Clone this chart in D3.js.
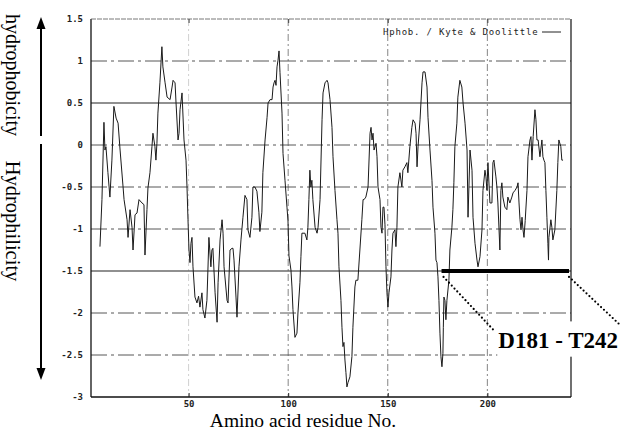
<!DOCTYPE html>
<html><head><meta charset="utf-8">
<script src="https://cdn.jsdelivr.net/npm/d3@7/dist/d3.min.js"></script>
<style>body{margin:0;background:#fff;} svg{display:block;}</style>
</head><body>
<svg id="c" width="623" height="432"></svg>
<script>
// ---- data ----
const xTicks = [50, 100, 150, 200];
const yTicks = [1.5, 1, 0.5, 0, -0.5, -1, -1.5, -2, -2.5, -3];
const solidGrid = [0.5, -1.5];
const xDomain = [1, 242];
const yDomain = [-3, 1.5];
const xTitle = "Amino acid residue No.";
const upLabel = "hydrophobicity";
const downLabel = "Hydrophilicity";
const legendLabel = "Hphob. / Kyte & Doolittle";
const regionLabel = "D181 - T242";
const regionSpan = [177, 241];
const regionLevel = -1.5;

// [residue, Kyte-Doolittle score]
const profile = [
[5.5,-1.21],[6.5,-0.65],[7.5,0.27],[8,-0.06],[8.5,-0.02],[9.5,-0.33],[10.5,-0.62],[11.5,-0.18],[12.5,0.46],[13.6,0.32],[14.6,0.26],[15.6,-0.06],[17.1,-0.5],[17.6,-0.65],[19.1,-0.89],[19.6,-1.1],[20.6,-0.77],[21.6,-0.98],[22.1,-1.25],[23.1,-0.83],[24.1,-0.81],[25.1,-0.65],[26.6,-0.69],[27.6,-0.71],[28.1,-1.31],[29.1,-0.77],[29.6,-0.51],[30.6,-0.33],[31.6,-0.02],[32.1,0.14],[33.1,-0.02],[33.6,-0.18],[34.1,0.02],[34.6,0.38],[35.6,0.74],[36.6,1.17],[37.1,0.93],[38.2,0.74],[39.2,0.57],[40.7,0.54],[41.7,0.69],[42.2,0.77],[43.2,0.74],[43.7,0.5],[44.7,0.06],[45.2,0.14],[45.7,0.42],[46.7,0.62],[47.7,0.06],[48.7,-0.18],[49.2,-0.5],[49.7,-0.89],
[50.2,-1.25],[50.7,-1.4],[51.2,-1.17],[51.7,-1.1],[52.2,-1.45],[53.2,-1.81],[54.2,-1.88],[55,-1.8],[55.7,-1.93],[56.7,-1.76],[57.2,-1.96],[58.2,-2.06],[59.2,-1.85],[59.7,-1.49],[60.2,-1.1],[61.2,-1.45],[61.7,-1.25],[62.2,-1.23],[63.3,-1.76],[64.3,-2.11],[64.8,-1.64],[65.8,-1.13],[66.8,-0.89],[67.3,-1.05],[67.8,-1.45],[69.3,-1.85],[69.8,-1.88],[70.8,-1.25],[71.8,-1.23],[72.3,-1.23],[72.8,-1.37],[73.8,-1.81],[74.3,-2.05],[75.3,-1.45],[76.3,-1.13],[77.3,-0.86],[78.3,-0.6],[79.3,-0.65],[79.8,-1.01],[80.8,-1.1],[81.8,-0.86],[82.3,-0.5],[83.3,-0.5],[84.3,-0.55],[85.3,-0.8],[85.8,-1.03],[86.8,-0.8],[87.3,-0.33],[88.4,0.06],[89.4,0.33],[89.9,0.5],[90.9,0.54],[91.9,0.54],[92.4,0.69],[92.9,0.74],[93.4,0.77],[93.9,0.71],[94.4,0.93],[94.9,1.01],[95.4,1.12],[95.9,0.86],[96.9,0.38],[97.4,-0.1],[98.4,-0.42],[99.4,-0.74],
[99.9,-0.9],[100.4,-1.32],[101.4,-1.49],[101.9,-1.69],[102.4,-1.96],[103.4,-2.29],[104.4,-2.24],[104.9,-2.0],[105.9,-1.64],[106.4,-1.33],[106.9,-1.05],[108.4,-1.05],[109.4,-1.13],[109.9,-0.98],[110.4,-0.65],[110.9,-0.3],[111.4,-0.5],[111.9,-0.42],[112.4,-0.65],[113.5,-0.98],[114.5,-1.05],[115,-0.98],[116,-0.65],[117,0.3],[117.5,0.62],[118.5,0.74],[119.5,0.77],[120,0.74],[121,0.54],[122,0.21],[122.5,-0.14],[123.5,-0.54],[124.5,-0.89],[125,-1.05],[125.5,-1.45],[126.5,-1.85],[127,-2.17],[127.5,-2.4],[128,-2.35],[128.5,-2.56],[129,-2.71],[129.5,-2.88],[130,-2.83],[131,-2.76],[132,-2.52],[132.5,-2.17],[133.5,-1.69],[134,-1.61],[135,-1.61],[136,-1.25],[137,-0.89],[137.6,-0.65],
[138.1,-0.65],[139,-0.62],[140.1,-0.5],[141.1,0.14],[141.6,0.21],[142.1,0.06],[142.6,0.14],[143.1,-0.06],[144.1,0.02],[144.6,-0.14],[145.1,-0.5],[146.1,-0.65],[146.6,-0.98],[147.1,-1.05],[147.6,-0.74],[148.1,-0.74],[148.6,-0.95],[149.1,-1.45],[149.6,-1.76],[150.1,-1.93],[150.6,-1.76],[151.6,-1.57],[152.1,-1.25],[152.6,-1.05],[153.6,-1.01],[154.1,-1.21],[154.6,-0.98],[155.1,-0.5],[156.1,-0.33],[157.1,-0.5],[157.6,-0.3],[158.6,-0.26],[159.6,-0.21],[160.1,-0.33],[161.1,-0.02],[162.1,0.21],[162.7,0.3],[163.7,0.26],[164.2,0.14],[164.7,-0.26],[165.2,-0.02],[166.2,0.3],[167.2,0.74],[167.7,0.87],[168.7,0.87],[169.7,0.69],[170.2,0.33],[171.2,-0.06],[172.2,-0.42],[172.7,-0.74],[173.7,-1.05],[174.2,-1.37],[174.7,-1.4],[175.2,-1.57],[175.7,-1.85],[176.2,-2.24],[176.7,-2.52],[177.2,-2.64],[177.7,-2.48],[177.9,-2.17],[178.2,-1.81],[178.7,-1.85],[179.2,-2.08],[179.7,-1.85],[180.7,-1.61],[181.2,-1.25],[182.2,-0.98],[182.7,-0.77],[183.2,-0.45],[183.7,-0.02],[184.7,0.26],[185.2,0.57],[186.2,0.77],[187.2,0.69],[187.8,0.5],[188.8,0.26],[189.8,-0.06],[190.3,-0.86],[191.3,-0.06],[192.3,-0.3],[192.8,-0.86],[193.8,-1.17],[194.8,-1.37],[195.3,-1.45],[196.3,-1.33],[197.3,-1.01],[197.8,-0.54],[198.8,-0.3],[199.3,-0.38],[199.8,-0.54],[200.3,-0.21],[201.3,-0.69],[202.3,-0.69],[202.8,-0.21],[203.3,-0.18],[204.3,-0.38],[204.8,-0.5],[205.3,-0.69],[206.3,-1.25],[206.8,-0.54],[207.3,-0.45],[207.8,-0.62],[208.8,-0.74],[209.8,-0.77],[210.3,-0.62],[211.3,-0.69],[212.3,-0.62],[212.9,-0.57],[213.9,-0.54],[214.9,-0.5],[215.4,-0.45],[215.9,-0.69],[216.4,-0.89],[216.9,-1.01],[217.4,-0.86],[217.9,-1.01],[218.4,-1.1],[219,-0.9],[219.9,-0.54],[220.4,-0.14],[221.4,0.06],[221.9,0.1],[222.4,-0.18],[223,0.1],[223.9,0.42],[224.4,0.3],[224.9,0.06],[225.5,0.06],[226.4,-0.14],[227.4,0.06],[227.9,-0.14],[228.4,-0.18],[228.9,-0.21],[229.4,-0.54],[229.9,-0.86],[230.4,-1.17],[230.7,-1.37],[230.9,-1.1],[231.9,-0.89],[232.4,-0.98],[232.9,-1.13],[233.9,-1.01],[234.9,-0.54],[235.4,-0.21],[235.9,0.06],[236.9,-0.02],[237.4,-0.18],[238,-0.18]
];

// ---- layout ----
const svg = d3.select("#c");
const x = d3.scaleLinear().domain(xDomain).range([91, 571]);
const y = d3.scaleLinear().domain(yDomain).range([397, 19]);
const [L, R] = x.range();
const [B, T] = y.range();

// horizontal grid
svg.append("g").selectAll("line")
  .data(yTicks.filter(d => d > yDomain[0] && d < yDomain[1]))
  .join("line")
  .attr("x1", L).attr("x2", R)
  .attr("y1", d => y(d)).attr("y2", d => y(d))
  .attr("stroke", d => solidGrid.includes(d) ? "#222" : "#444")
  .attr("stroke-width", d => solidGrid.includes(d) ? 1.2 : 0.9)
  .attr("stroke-dasharray", d => solidGrid.includes(d) ? null : "16,4,3,4");

// vertical grid
svg.append("g").selectAll("line")
  .data(xTicks)
  .join("line")
  .attr("x1", d => x(d)).attr("x2", d => x(d))
  .attr("y1", T).attr("y2", B)
  .attr("stroke", "#555")
  .attr("stroke-width", 0.8)
  .attr("stroke-opacity", d => d === xTicks[0] ? 0.35 : 0.9)
  .attr("stroke-dasharray", "7,3,2,3");

// frame
const frame = svg.append("g").attr("stroke", "#111").attr("fill", "none");
frame.append("line").attr("x1", L).attr("x2", L).attr("y1", T).attr("y2", B).attr("stroke-width", 1.3);
frame.append("line").attr("x1", L).attr("x2", R).attr("y1", B).attr("y2", B).attr("stroke-width", 1.3);
frame.append("line").attr("x1", R).attr("x2", R).attr("y1", T).attr("y2", B).attr("stroke-width", 1.2);
frame.append("line").attr("x1", L).attr("x2", R).attr("y1", T).attr("y2", T).attr("stroke-width", 0.8).attr("stroke", "#555").attr("stroke-dasharray", "5,1");

// axes
const monoFont = "'DejaVu Sans Mono', monospace";
const gx = svg.append("g").attr("transform", `translate(0,${B})`)
  .call(d3.axisBottom(x).tickValues(xTicks).tickSizeInner(-4).tickSizeOuter(0).tickPadding(4).tickFormat(d => String(d)));
gx.select(".domain").remove();
gx.selectAll("line").attr("stroke", "#222");
gx.selectAll("text").attr("font-family", monoFont).attr("font-size", 9).attr("font-weight", "bold").attr("fill", "#222");
const gxt = svg.append("g").attr("transform", `translate(0,${T})`)
  .call(d3.axisTop(x).tickValues(xTicks).tickSizeInner(-4).tickSizeOuter(0).tickFormat(""));
gxt.select(".domain").remove();
gxt.selectAll("line").attr("stroke", "#444");

const gy = svg.append("g").attr("transform", `translate(${L},0)`)
  .call(d3.axisLeft(y).tickValues(yTicks).tickSize(0).tickPadding(8).tickFormat(d => String(d)));
gy.select(".domain").remove();
gy.selectAll("text").attr("font-family", monoFont).attr("font-size", 9).attr("font-weight", "bold").attr("fill", "#222");

// profile line
svg.append("path")
  .datum(profile)
  .attr("fill", "none")
  .attr("stroke", "#1a1a1a")
  .attr("stroke-width", 1)
  .attr("stroke-linejoin", "round")
  .attr("d", d3.line().x(d => x(d[0])).y(d => y(d[1])));

// legend
const lg = svg.append("g");
lg.append("text").attr("x", 383).attr("y", 35)
  .attr("font-family", monoFont).attr("font-size", 9).attr("letter-spacing", 0.8)
  .attr("fill", "#222").text(legendLabel);
lg.append("line").attr("x1", 542).attr("x2", 561).attr("y1", 32).attr("y2", 32)
  .attr("stroke", "#222").attr("stroke-width", 1);

// region annotation
const ann = svg.append("g");
ann.append("rect")
  .attr("x", x(205)).attr("y", y(-2.1))
  .attr("width", 623 - x(205)).attr("height", y(-2.52) - y(-2.1))
  .attr("fill", "#fff");
ann.append("line")
  .attr("x1", x(regionSpan[0])).attr("x2", x(regionSpan[1]))
  .attr("y1", y(regionLevel)).attr("y2", y(regionLevel))
  .attr("stroke", "#000").attr("stroke-width", 4);
ann.append("line")
  .attr("x1", x(178)).attr("y1", y(-1.57))
  .attr("x2", x(203)).attr("y2", y(-2.2))
  .attr("stroke", "#000").attr("stroke-width", 2.2)
  .attr("stroke-dasharray", "0,4").attr("stroke-linecap", "round");
ann.append("line")
  .attr("x1", x(regionSpan[1])).attr("y1", y(-1.57))
  .attr("x2", x(267)).attr("y2", y(-2.15))
  .attr("stroke", "#000").attr("stroke-width", 2.2)
  .attr("stroke-dasharray", "0,4").attr("stroke-linecap", "round");
ann.append("text")
  .attr("x", x(205.5)).attr("y", y(-2.42))
  .attr("font-family", "'Liberation Serif', 'Times New Roman', serif")
  .attr("font-size", 23).attr("font-weight", "bold").attr("fill", "#000")
  .text(regionLabel);

// x title
svg.append("text")
  .attr("x", 303).attr("y", 427)
  .attr("text-anchor", "middle")
  .attr("font-family", "'Liberation Serif', 'Times New Roman', serif")
  .attr("font-size", 19.5).attr("fill", "#000")
  .text(xTitle);

// left side labels + arrows
const serif = "'Liberation Serif', 'Times New Roman', serif";
svg.append("text")
  .attr("transform", "translate(6,75) rotate(90)")
  .attr("text-anchor", "middle")
  .attr("font-family", serif).attr("font-size", 20).attr("fill", "#000")
  .text(upLabel);
svg.append("text")
  .attr("transform", "translate(6,221) rotate(90)")
  .attr("text-anchor", "middle")
  .attr("font-family", serif).attr("font-size", 20.5).attr("fill", "#000")
  .text(downLabel);

const arrows = svg.append("g").attr("stroke", "#000").attr("fill", "#000");
arrows.append("line").attr("x1", 41).attr("x2", 41).attr("y1", 136).attr("y2", 24).attr("stroke-width", 2);
arrows.append("path").attr("d", "M41,17 L36.5,29 L45.5,29 Z").attr("stroke", "none");
arrows.append("line").attr("x1", 41).attr("x2", 41).attr("y1", 144).attr("y2", 372).attr("stroke-width", 2);
arrows.append("path").attr("d", "M41,380 L36.5,368 L45.5,368 Z").attr("stroke", "none");
</script>
</body></html>
